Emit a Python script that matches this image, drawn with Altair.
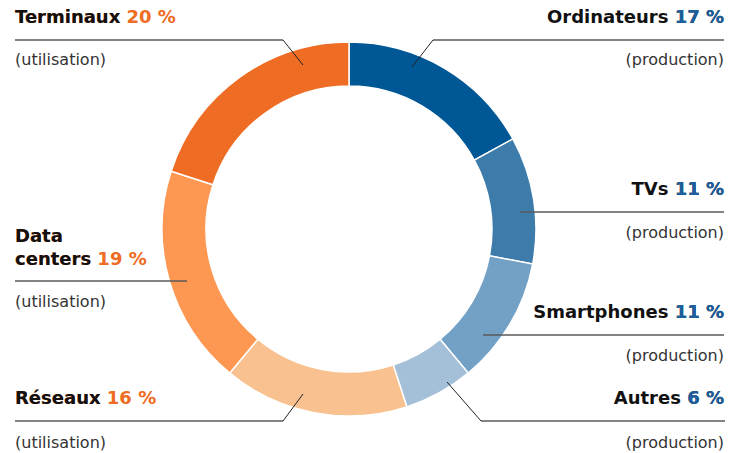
import altair as alt
import pandas as pd

# ---- data ----
names = ["Ordinateurs", "TVs", "Smartphones", "Autres", "Réseaux", "Data centers", "Terminaux"]
values = [17, 11, 11, 6, 16, 19, 20]
kinds = ["production", "production", "production", "production",
         "utilisation", "utilisation", "utilisation"]
display_names = ["Ordinateurs", "TVs", "Smartphones", "Autres", "Réseaux", "Data\ncenters", "Terminaux"]

slice_colors = ["#005796", "#3d7bab", "#73a0c5", "#a4c0d9", "#f8c18f", "#fe9752", "#ee6c23"]
pct_colors = {"production": "#1c5f9e", "utilisation": "#ee6c23"}

# ---- layout (annotation positions, chart pixels) ----
W, H = 726, 445
CX, CY = 341, 221
R_OUT, R_IN = 187, 143

side = ["right", "right", "right", "right", "left", "left", "left"]
text_x = [716, 716, 716, 716, 7, 7, 7]
text_y = [15, 187, 310, 396, 396, 234, 15]
sub_y = [57, 230, 353, 440, 440, 299, 57]
line_y = [32, 204, 327, 413, 413, 273, 32]
line_x1 = [425, 512, 475, 473, 7, 7, 7]
line_x2 = [716, 716, 716, 717, 275, 179, 275]
diag_from = [(425, 32), None, None, (473, 413), (275, 413), None, (275, 32)]
diag_to = [(404, 59), None, None, (439, 374), (295, 386), None, (295, 57)]

arc_df = pd.DataFrame({"name": names, "value": values, "order": list(range(len(names)))})

lab = pd.DataFrame({
    "name": display_names,
    "pct": [f"{v} %" for v in values],
    "full": [f"{n} {v} %" for n, v in zip(display_names, values)],
    "sub": [f"({k})" for k in kinds],
    "kind": kinds,
    "side": side,
    "x": text_x, "y": text_y, "sy": sub_y,
})
left = lab[lab.side == "left"]
right = lab[lab.side == "right"]
left_pct_color = pct_colors[left.kind.iloc[0]]
right_pct_color = pct_colors[right.kind.iloc[0]]

hseg = pd.DataFrame({"x": line_x1, "x2": line_x2, "y": line_y, "y2": line_y})
dseg = pd.DataFrame([
    {"x": a[0], "y": a[1], "x2": b[0], "y2": b[1]}
    for a, b in zip(diag_from, diag_to) if a is not None
])

FONT = "DejaVu Sans"

arcs = alt.Chart(arc_df).mark_arc(
    outerRadius=R_OUT, innerRadius=R_IN, stroke="white", strokeWidth=1.5
).encode(
    theta=alt.Theta("value:Q", stack=True),
    order=alt.Order("order:Q"),
    color=alt.Color("name:N", scale=alt.Scale(domain=names, range=slice_colors), legend=None),
    x=alt.value(CX), y=alt.value(CY),
)

def seg_layer(df, color, width):
    return alt.Chart(df).mark_rule(color=color, strokeWidth=width).encode(
        x=alt.X("x:Q", scale=None), x2="x2:Q",
        y=alt.Y("y:Q", scale=None), y2="y2:Q",
    )

h_lines = seg_layer(hseg, "#5a5a5a", 1.3)
d_lines = seg_layer(dseg, "#222222", 1.0)

def text_layer(df, field, align, color, bold=True, yfield="y", size=18):
    return alt.Chart(df).mark_text(
        align=align, baseline="alphabetic", font=FONT, fontSize=size,
        fontWeight="bold" if bold else "normal", lineBreak="\n", lineHeight=23,
        color=color,
    ).encode(
        x=alt.X("x:Q", scale=None), y=alt.Y(f"{yfield}:Q", scale=None),
        text=alt.Text(f"{field}:N"),
    )

left_full = text_layer(left, "full", "left", left_pct_color)   # coloured full string
left_name = text_layer(left, "name", "left", "#111111")        # black name on top
right_full = text_layer(right, "full", "right", "#111111")
right_pct = text_layer(right, "pct", "right", right_pct_color)
subs_left = text_layer(left, "sub", "left", "#333333", bold=False, yfield="sy", size=16)
subs_right = text_layer(right, "sub", "right", "#333333", bold=False, yfield="sy", size=16)

chart = alt.layer(
    arcs, h_lines, d_lines, left_full, left_name, right_full, right_pct, subs_left, subs_right
).properties(
    width=W, height=H, padding=0, autosize=alt.AutoSizeParams(type="none")
).configure_view(stroke=None)

chart.save("out.html", embed_options={"renderer": "svg", "actions": False})
